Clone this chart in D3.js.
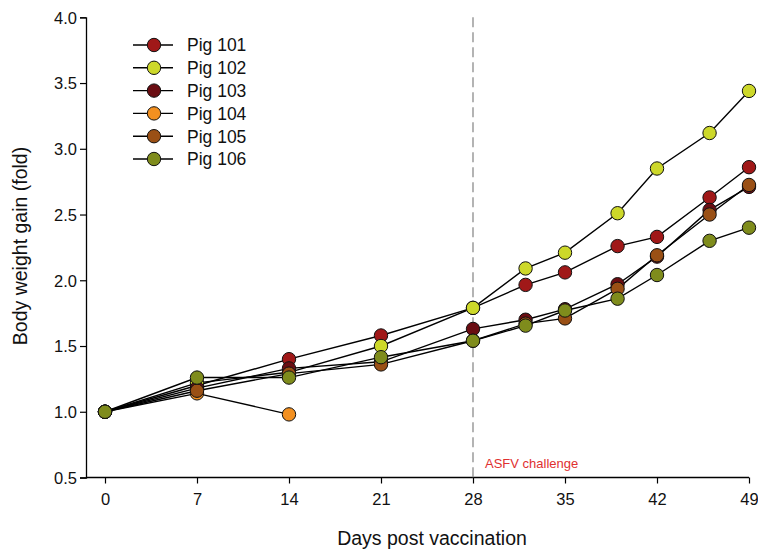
<!DOCTYPE html>
<meta charset="utf-8">
<html>
<head>
    <script src="https://d3js.org/d3.v7.min.js"></script>
    <style>
        body { margin: 0; background: #fff; }
        text { font-family: "Liberation Sans", Arial, sans-serif; }
    </style>
</head>
<body>
<script>
    // data
    var days = [0, 7, 14, 21, 28, 32, 35, 39, 42, 46, 49];
    var pigs = ["Pig 101", "Pig 102", "Pig 103", "Pig 104", "Pig 105", "Pig 106"];
    var pig101 = [1.0, 1.20, 1.40, 1.58, 1.79, 1.965, 2.06, 2.26, 2.33, 2.63, 2.86];
    var pig102 = [1.0, 1.22, 1.30, 1.50, 1.79, 2.09, 2.21, 2.51, 2.85, 3.12, 3.44];
    var pig103 = [1.0, 1.18, 1.33, 1.38, 1.63, 1.70, 1.78, 1.97, 2.18, 2.535, 2.71];
    var pig104 = [1.0, 1.14, 0.98];
    var pig105 = [1.0, 1.16, 1.29, 1.36, 1.54, 1.67, 1.71, 1.935, 2.19, 2.50, 2.725];
    var pig106 = [1.0, 1.26, 1.26, 1.415, 1.54, 1.655, 1.77, 1.86, 2.04, 2.30, 2.40];
    var colours = ["#a01818", "#cdd82a", "#6a0d12", "#f39020", "#9a5015", "#7f8c1c"];
    var xTicks = [0, 7, 14, 21, 28, 35, 42, 49];
    var yTicks = [0.5, 1.0, 1.5, 2.0, 2.5, 3.0, 3.5, 4.0];
    var challengeDay = 28;

    var series = [pig101, pig102, pig103, pig104, pig105, pig106];

    var width = 758, height = 551;
    var svg = d3.select("body").append("svg")
        .attr("width", width)
        .attr("height", height);

    var x = d3.scaleLinear().domain([0, 49]).range([105, 749]);
    var y = d3.scaleLinear().domain([0.5, 4.0]).range([477.5, 17.3]);
    var axisX = 86;

    // y axis
    var yAxis = svg.append("g")
        .attr("transform", "translate(" + axisX + ",0)")
        .call(d3.axisLeft(y).tickValues(yTicks).tickFormat(d3.format(".1f")).tickSizeOuter(0).tickSize(6));
    yAxis.select(".domain").attr("stroke", "#000").attr("stroke-width", 1.3);
    yAxis.selectAll(".tick line").attr("stroke", "#000").attr("stroke-width", 1.2);
    yAxis.selectAll(".tick text").attr("font-size", 16.5).attr("fill", "#111")
        .attr("x", -9).attr("dy", "0.36em").style("font-family", "Liberation Sans, Arial, sans-serif");

    // x axis
    var xAxis = svg.append("g")
        .attr("transform", "translate(0," + y(0.5) + ")")
        .call(d3.axisBottom(x).tickValues(xTicks).tickSize(6).tickSizeOuter(0));
    xAxis.select(".domain").attr("d", "M" + axisX + ",0H" + x(49)).attr("stroke", "#000").attr("stroke-width", 1.3);
    xAxis.selectAll(".tick line").attr("stroke", "#000").attr("stroke-width", 1.2);
    xAxis.selectAll(".tick text").attr("font-size", 16.5).attr("fill", "#111")
        .attr("y", 16).style("font-family", "Liberation Sans, Arial, sans-serif");

    // challenge line
    svg.append("line")
        .attr("x1", x(challengeDay)).attr("x2", x(challengeDay))
        .attr("y1", y(4.0)).attr("y2", y(0.5))
        .attr("stroke", "#8c8c8c").attr("stroke-width", 1.3)
        .attr("stroke-dasharray", "10,5");
    svg.append("text")
        .attr("x", x(challengeDay) + 12).attr("y", 468)
        .attr("font-size", 13).attr("fill", "#e03030")
        .text("ASFV challenge");

    // axis titles
    svg.append("text")
        .attr("x", 432).attr("y", 545)
        .attr("text-anchor", "middle").attr("font-size", 19.5).attr("fill", "#111")
        .text("Days post vaccination");
    svg.append("text")
        .attr("transform", "translate(27,246) rotate(-90)")
        .attr("text-anchor", "middle").attr("font-size", 19.5).attr("fill", "#111")
        .text("Body weight gain (fold)");

    var line = d3.line()
        .x(function (d, i) { return x(days[i]); })
        .y(function (d) { return y(d); });

    // lines first, then markers
    svg.selectAll("path.serie")
        .data(series)
        .enter().append("path")
        .attr("class", "serie")
        .attr("d", line)
        .attr("fill", "none")
        .attr("stroke", "#000")
        .attr("stroke-width", 1.4);

    series.forEach(function (vals, k) {
        svg.selectAll("circle.p" + k)
            .data(vals)
            .enter().append("circle")
            .attr("class", "p" + k)
            .attr("cx", function (d, i) { return x(days[i]); })
            .attr("cy", function (d) { return y(d); })
            .attr("r", 6.7)
            .attr("fill", colours[k])
            .attr("stroke", "#111")
            .attr("stroke-width", 1);
    });

    // legend
    var legend = svg.append("g").attr("transform", "translate(133,45)");
    var rows = legend.selectAll("g")
        .data(pigs)
        .enter().append("g")
        .attr("transform", function (d, i) { return "translate(0," + (i * 22.8) + ")"; });
    rows.append("line")
        .attr("x1", 0).attr("x2", 40)
        .attr("stroke", "#000").attr("stroke-width", 1.4);
    rows.append("circle")
        .attr("cx", 21).attr("r", 6.7)
        .attr("fill", function (d, i) { return colours[i]; })
        .attr("stroke", "#111").attr("stroke-width", 1);
    rows.append("text")
        .attr("x", 54).attr("dy", "0.36em")
        .attr("font-size", 17.5).attr("fill", "#111")
        .text(function (d) { return d; });
</script>
</body>
</html>
